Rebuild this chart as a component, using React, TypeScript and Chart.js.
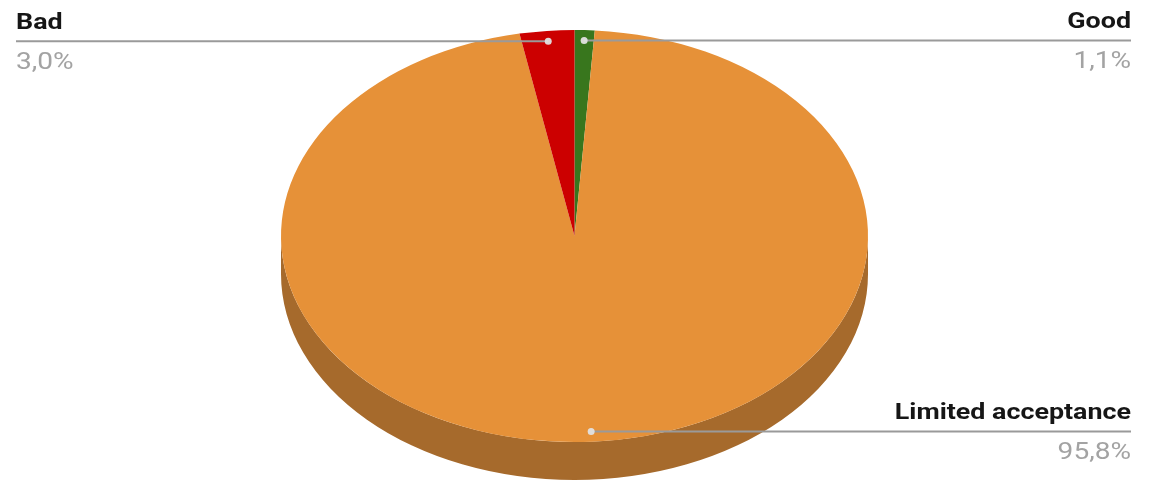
import React, { useEffect, useRef } from "react";
import { Chart, registerables } from "chart.js";

Chart.register(...registerables);

// ---- data ----
const categories: string[] = ["Good", "Limited acceptance", "Bad"];
const values: number[] = [1.1, 95.8, 3.0];
const percentLabels: string[] = ["1,1%", "95,8%", "3,0%"];
const sliceColors: string[] = ["#38761D", "#E69138", "#CC0000"];
const sideColors: string[] = ["#2A5A16", "#A66A2C", "#990000"];

// ---- style constants ----
const W = 1153;
const H = 485;
const PIE_RADIUS = 293.5;
const TILT = 0.702;
const DEPTH = 38;
const DOT_R = 0.95;
const TEXT_STRETCH = 1.22;

const tiltPlugin = {
  id: "tilt3d",
  beforeDatasetsDraw(chart: any) {
    const meta = chart.getDatasetMeta(0);
    const ctx: CanvasRenderingContext2D = chart.ctx;
    const first = meta.data[0];
    const cx = first.x;
    const cy = first.y;
    ctx.save();
    meta.data.forEach((arc: any, i: number) => {
      const { startAngle, endAngle, outerRadius } = arc.getProps(
        ["startAngle", "endAngle", "outerRadius"],
        true
      );
      const rx = outerRadius;
      const ry = outerRadius * TILT;
      for (const off of [-2 * Math.PI, 0, 2 * Math.PI]) {
        const a = Math.max(startAngle, off);
        const b = Math.min(endAngle, off + Math.PI);
        if (b > a) {
          ctx.beginPath();
          ctx.ellipse(cx, cy, rx, ry, 0, a - off, b - off, false);
          ctx.ellipse(cx, cy + DEPTH, rx, ry, 0, b - off, a - off, true);
          ctx.closePath();
          ctx.fillStyle = sideColors[i];
          ctx.fill();
        }
      }
    });
    ctx.translate(cx, cy);
    ctx.scale(1, TILT);
    ctx.translate(-cx, -cy);
  },
  afterDatasetsDraw(chart: any) {
    chart.ctx.restore();
  },
};

const labelPlugin = {
  id: "pieLabels",
  afterDraw(chart: any) {
    const meta = chart.getDatasetMeta(0);
    const ctx: CanvasRenderingContext2D = chart.ctx;
    const cx = meta.data[0].x;
    const cy = meta.data[0].y;
    meta.data.forEach((arc: any, i: number) => {
      const { startAngle, endAngle, outerRadius } = arc.getProps(
        ["startAngle", "endAngle", "outerRadius"],
        true
      );
      const mid = (startAngle + endAngle) / 2;
      const px = cx + Math.cos(mid) * outerRadius * DOT_R;
      const py = cy + Math.sin(mid) * outerRadius * TILT * DOT_R;
      const right = Math.cos(mid) >= 0;
      const tx = right ? chart.width - 22 : 16;

      ctx.save();
      ctx.strokeStyle = "#9a9a9a";
      ctx.lineWidth = 2;
      ctx.beginPath();
      ctx.moveTo(px, py);
      ctx.lineTo(tx, py);
      ctx.stroke();

      ctx.fillStyle = "rgba(225,225,225,0.95)";
      ctx.beginPath();
      ctx.arc(px, py, 3.5, 0, Math.PI * 2);
      ctx.fill();

      ctx.textAlign = right ? "right" : "left";
      ctx.textBaseline = "alphabetic";

      ctx.save();
      ctx.translate(tx, py - 12.5);
      ctx.scale(TEXT_STRETCH, 1);
      ctx.font = "bold 22px Roboto";
      ctx.fillStyle = "#161616";
      ctx.fillText(categories[i], 0, 0);
      ctx.restore();

      ctx.save();
      ctx.translate(tx, py + 27.5);
      ctx.scale(TEXT_STRETCH, 1);
      ctx.font = "23px Roboto";
      ctx.fillStyle = "#a3a3a3";
      ctx.fillText(percentLabels[i], 0, 0);
      ctx.restore();

      ctx.restore();
    });
  },
};

export default function App() {
  const canvasRef = useRef<HTMLCanvasElement | null>(null);

  useEffect(() => {
    if (!canvasRef.current) return;
    const chart = new Chart(canvasRef.current, {
      type: "pie",
      data: {
        labels: categories,
        datasets: [
          {
            data: values,
            backgroundColor: sliceColors,
            borderWidth: 0,
            radius: PIE_RADIUS,
            clip: false,
          } as any,
        ],
      },
      options: {
        responsive: false,
        animation: false,
        devicePixelRatio: 1,
        events: [],
        layout: { padding: { left: 0, right: 4, top: 0, bottom: 13 } },
        plugins: {
          legend: { display: false },
          tooltip: { enabled: false },
        },
      },
      plugins: [tiltPlugin, labelPlugin],
    });
    return () => chart.destroy();
  }, []);

  return (
    <div
      style={{
        position: "fixed",
        left: 0,
        top: 0,
        width: W,
        height: H,
        background: "#ffffff",
      }}
    >
      <canvas ref={canvasRef} width={W} height={H} />
    </div>
  );
}
